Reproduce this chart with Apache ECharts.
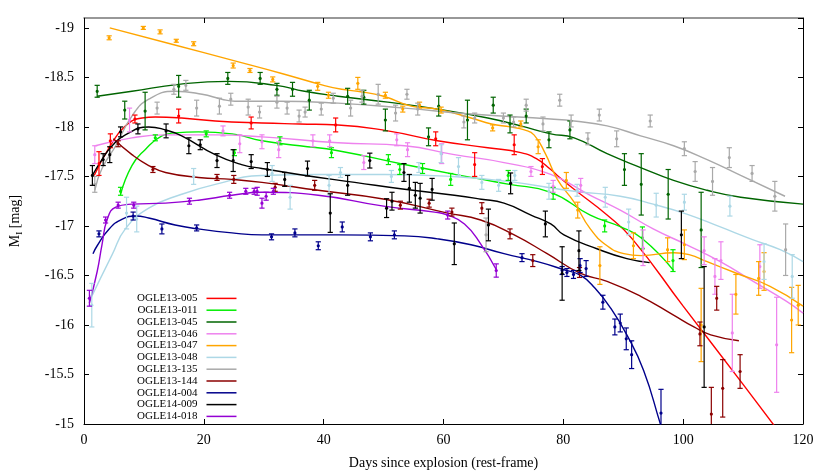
<!DOCTYPE html>
<html><head><meta charset="utf-8">
<script src="https://cdn.jsdelivr.net/npm/echarts@6/dist/echarts.min.js"></script>
<style>html,body{margin:0;padding:0;background:#fff}#c{width:830px;height:475px}</style>
</head><body><div id="c"></div>
<script>
// Supernova names and colours
const names = ['OGLE13-005','OGLE13-011','OGLE13-045','OGLE13-046','OGLE13-047','OGLE13-048','OGLE13-135','OGLE13-144','OGLE14-004','OGLE14-009','OGLE14-018'];
const colors = ['#ff0000','#00ee00','#006400','#ee82ee','#ffa500','#add8e6','#a9a9a9','#8b0000','#00008b','#000000','#9400d3'];

// Observations: [day, M_I, error]
const pts005 = [[2.5,-17.63,0.12],[4.4,-17.86,0.07],[8.5,-18.08,0.04],[15.8,-18.11,0.07],[27.9,-18.04,0.06],[42,-18.02,0.07],[58.7,-17.88,0.07],[65.2,-17.62,0.12],[71.8,-17.82,0.1],[76.5,-17.6,0.08]];
const pts011 = [[6.1,-17.35,0.04],[11.9,-17.89,0.03],[20.4,-17.93,0.03],[25.1,-17.74,0.03],[32.7,-17.86,0.04],[41.3,-17.74,0.05],[50.8,-17.67,0.05],[52.7,-17.57,0.05],[56.5,-17.58,0.05],[61.2,-17.47,0.06],[70.8,-17.51,0.05],[78.3,-17.33,0.06],[86.9,-17.0,0.06],[93.2,-16.88,0.11],[98.3,-16.65,0.11]];
const pts045 = [[2.2,-18.36,0.06],[6.8,-18.17,0.09],[10.2,-18.16,0.19],[15.8,-18.41,0.11],[24,-18.49,0.06],[29.4,-18.49,0.06],[32.2,-18.38,0.06],[34.8,-18.38,0.07],[37.6,-18.27,0.1],[44,-18.31,0.08],[46.7,-18.3,0.07],[50.3,-18.07,0.11],[57.5,-17.9,0.09],[59.2,-18.21,0.1],[64,-18.07,0.2],[68.3,-18.22,0.08],[71.1,-18.03,0.09],[73.8,-18.11,0.07],[77.6,-17.87,0.08],[81.1,-17.97,0.09],[90.2,-17.57,0.16],[93,-17.42,0.31],[97.5,-17.32,0.25],[103,-16.96,0.38]];
const pts046 = [[1.8,-17.72,0.09],[7.6,-18.07,0.12],[23.2,-17.96,0.05],[26,-17.83,0.09],[29.7,-17.85,0.07],[32.5,-17.77,0.08],[38.2,-17.86,0.06],[41,-17.86,0.06],[46.7,-17.64,0.07],[52.2,-17.87,0.06],[54,-17.77,0.07],[59.7,-17.73,0.1],[74.6,-17.55,0.05],[78.3,-17.4,0.06],[82.9,-17.41,0.07],[93.3,-16.78,0.18],[103.5,-16.75,0.14],[105.3,-16.49,0.18],[106.3,-16.65,0.19],[108.2,-15.92,0.39],[112.8,-16.59,0.22],[115.6,-15.8,0.48]];
const pts047 = [[4.2,-18.9,0.02],[9.9,-19.0,0.015],[12.7,-18.96,0.02],[15.4,-18.87,0.015],[18.3,-18.84,0.02],[24.9,-18.62,0.025],[27.7,-18.57,0.02],[31.5,-18.48,0.025],[39,-18.41,0.04],[40.8,-18.32,0.03],[45.7,-18.44,0.06],[50.3,-18.32,0.03],[53.2,-18.18,0.03],[56,-18.22,0.03],[59.6,-18.17,0.03],[68.2,-17.99,0.03],[72.9,-18.03,0.03],[75.8,-17.8,0.07],[80.5,-17.46,0.08],[82.4,-17.16,0.08],[86.1,-16.6,0.19],[91.7,-16.8,0.13],[97.4,-16.76,0.12],[100.2,-16.81,0.15],[103,-16.0,0.37],[108.8,-16.31,0.2],[112.6,-16.47,0.17],[113.5,-16.54,0.19],[118.1,-16.05,0.33],[119.2,-16.2,0.2]];
const pts048 = [[1.3,-16.2,0.22],[7.1,-17.13,0.16],[8.8,-17.07,0.13],[18.3,-17.5,0.08],[31.4,-17.53,0.08],[34.4,-17.29,0.12],[40.9,-17.41,0.1],[42.8,-17.54,0.05],[51.3,-17.5,0.06],[55.9,-17.59,0.05],[59.6,-17.73,0.09],[62.5,-17.6,0.09],[66.4,-17.44,0.07],[69.2,-17.41,0.06],[71.9,-17.51,0.05],[77.6,-17.35,0.08],[82.3,-17.36,0.06],[87,-17.29,0.1],[90.9,-17.04,0.13],[95.5,-17.21,0.12],[100.2,-17.24,0.08],[107.8,-17.2,0.1],[113.5,-16.64,0.18],[118.2,-16.49,0.22]];
const pts135 = [[1.8,-17.42,0.08],[12.2,-18.19,0.06],[15,-18.38,0.05],[17,-18.42,0.05],[18.8,-18.19,0.08],[22.6,-18.21,0.08],[24.5,-18.28,0.06],[27.4,-18.2,0.08],[29.3,-18.15,0.06],[32.2,-18.25,0.06],[33.9,-18.19,0.06],[35.9,-18.11,0.06],[36.9,-18.15,0.05],[39.6,-18.18,0.06],[41.6,-18.29,0.05],[44.5,-18.19,0.08],[46.4,-18.31,0.06],[49.1,-18.33,0.1],[52,-18.14,0.08],[53.9,-18.33,0.05],[55.7,-18.18,0.06],[63.4,-18.05,0.06],[65.2,-18.09,0.05],[67.1,-16.91,0.17],[70,-18.09,0.05],[71.7,-18.05,0.05],[73.8,-18.22,0.06],[76.6,-18.03,0.07],[79.4,-18.27,0.06],[81.3,-18.06,0.06],[84.1,-17.88,0.06],[86,-18.12,0.06],[88.9,-17.88,0.08],[94.5,-18.06,0.06],[100.2,-17.78,0.07],[102,-17.55,0.1],[104.9,-17.45,0.14],[107.7,-17.69,0.1],[111.5,-17.53,0.08],[115.3,-17.3,0.15],[117.1,-16.76,0.26]];
const pts144 = [[5.7,-17.83,0.03],[11.5,-17.57,0.03],[22.2,-17.49,0.03],[25,-17.47,0.04],[31.9,-17.39,0.04],[38.5,-17.41,0.05],[52.8,-17.21,0.04],[57.6,-17.23,0.04],[61.4,-17.14,0.04],[66.4,-17.18,0.055],[71.1,-16.92,0.05],[74.9,-16.65,0.06],[82.7,-16.53,0.05],[102.8,-15.91,0.12],[104.7,-15.1,0.27],[105.6,-16.27,0.12],[106.6,-15.36,0.29],[109.5,-15.53,0.17]];
const pts004 = [[2.5,-16.92,0.03],[8.2,-17.1,0.04],[13,-16.97,0.05],[18.8,-16.98,0.03],[31.3,-16.89,0.03],[35.2,-16.93,0.04],[39.1,-16.8,0.04],[43.1,-16.99,0.05],[47.8,-16.89,0.04],[51.8,-16.91,0.04],[73.1,-16.68,0.04],[79.8,-16.55,0.04],[80.6,-16.53,0.04],[81.7,-16.51,0.04],[82.8,-16.6,0.07],[83.8,-16.57,0.08],[86.6,-16.23,0.07],[88.6,-15.98,0.08],[89.5,-16.02,0.09],[90.5,-15.86,0.11],[91.4,-15.7,0.14],[96.3,-15.11,0.24]];
const pts009 = [[1.4,-17.51,0.1],[3.2,-17.67,0.06],[4.3,-17.72,0.08],[6.1,-17.95,0.05],[9,-17.98,0.05],[13.7,-17.96,0.07],[17.5,-17.81,0.08],[19.4,-17.82,0.05],[22.2,-17.66,0.07],[24.9,-17.66,0.11],[27.9,-17.65,0.07],[30.6,-17.57,0.07],[33.5,-17.47,0.07],[37.3,-17.58,0.075],[41.1,-17.13,0.195],[44,-17.41,0.1],[47.7,-17.66,0.075],[50.5,-17.18,0.095],[51.4,-17.25,0.09],[53.4,-17.54,0.09],[54.3,-17.38,0.14],[55.3,-17.31,0.13],[56.1,-17.28,0.15],[58.1,-17.37,0.11],[61.8,-16.82,0.21],[67.5,-17.01,0.16],[71.2,-17.43,0.105],[77,-17.02,0.13],[79.8,-16.52,0.27],[82.6,-16.75,0.2],[99.7,-16.91,0.24],[103.5,-15.98,0.61]];
const pts018 = [[0.9,-16.27,0.08],[3.6,-17.06,0.03],[5.7,-17.21,0.03],[8.3,-17.21,0.03],[17.6,-17.25,0.03],[24.3,-17.31,0.03],[27,-17.35,0.03],[28.4,-17.35,0.03],[28.9,-17.35,0.04],[29.7,-17.23,0.05],[30.4,-17.3,0.04],[31.6,-17.35,0.03],[60.7,-17.11,0.04],[68.8,-16.55,0.067]];

// Fitted curves: [day, M_I]
const fit005 = [[1.7,-17.51],[4.4,-17.81],[6.9,-18.01],[9.7,-18.09],[11.9,-18.1],[16.3,-18.09],[21.9,-18.06],[29.7,-18.04],[36,-18.03],[42.4,-18.02],[50.7,-17.96],[59,-17.86],[67.4,-17.79],[72.9,-17.74],[75.5,-17.68],[77.9,-17.57],[79,-17.51],[81.8,-17.37],[87.3,-17.11],[91.5,-16.87],[100,-16.19],[110,-15.4],[117,-14.84]];
const fit011 = [[6.1,-17.32],[8,-17.61],[10.2,-17.77],[13,-17.91],[15.2,-17.94],[19.1,-17.95],[24.7,-17.93],[29.7,-17.86],[36,-17.81],[42.4,-17.76],[53.5,-17.62],[64.6,-17.49],[71,-17.42],[77.9,-17.34],[84.5,-17.11],[89.6,-16.99],[93.2,-16.87],[98.4,-16.55]];
const fit045 = [[2.2,-18.31],[8,-18.36],[15.8,-18.43],[24.1,-18.46],[32.1,-18.42],[36.8,-18.36],[42.4,-18.31],[50.7,-18.25],[59,-18.18],[67.4,-18.09],[72.9,-18.01],[77.9,-17.93],[81.8,-17.89],[87.3,-17.73],[92.9,-17.59],[98.4,-17.46],[104,-17.36],[109.6,-17.29],[120,-17.22]];
const fit046 = [[1.9,-17.81],[8,-17.89],[13.6,-17.92],[21.9,-17.92],[29.7,-17.9],[42.4,-17.84],[53.5,-17.81],[61.8,-17.72],[70.1,-17.64],[77.9,-17.52],[84.5,-17.31],[89.5,-17.16],[95,-16.97],[100.6,-16.81],[106.2,-16.64],[111.7,-16.44],[117.2,-16.24],[120,-16.12]];
const fit047 = [[4.3,-19.0],[15,-18.83],[25,-18.67],[33,-18.54],[40,-18.42],[43,-18.38],[45.7,-18.36],[50,-18.31],[54.6,-18.21],[59,-18.18],[64.6,-18.09],[68,-18.03],[71.2,-18.0],[73.5,-17.97],[75.1,-17.92],[77,-17.73],[79,-17.47],[81.8,-17.24],[84.5,-16.97],[87.3,-16.8],[90.1,-16.72],[93,-16.7],[98.5,-16.73],[101,-16.71],[104,-16.64],[109,-16.52],[114.5,-16.39],[120,-16.19]];
const fit048 = [[0.9,-16.24],[4.7,-16.71],[6.9,-16.97],[10.8,-17.18],[16.3,-17.32],[21.9,-17.42],[29.7,-17.51],[39.1,-17.52],[50.2,-17.52],[61.3,-17.5],[70.7,-17.45],[81.8,-17.35],[89.5,-17.3],[95,-17.22],[100.6,-17.12],[106.2,-16.99],[111.7,-16.86],[116.2,-16.76],[120,-16.64]];
const fit135 = [[1.8,-17.36],[3,-17.58],[5.3,-17.81],[8,-18.11],[10.8,-18.28],[15.2,-18.36],[19.7,-18.33],[23,-18.28],[25.2,-18.26],[32.4,-18.26],[42.4,-18.24],[53.5,-18.19],[64.6,-18.13],[77.9,-18.08],[81.8,-18.06],[87.3,-18.01],[92.9,-17.91],[98.4,-17.81],[104,-17.67],[109.6,-17.51],[117,-17.3]];
const fit144 = [[4.9,-17.88],[8,-17.72],[10.8,-17.61],[13.6,-17.54],[19.1,-17.49],[24.7,-17.47],[29.7,-17.44],[39.1,-17.36],[50.2,-17.27],[60.7,-17.13],[66.2,-17.06],[71.8,-16.91],[77.3,-16.72],[82.9,-16.52],[87.3,-16.44],[92.9,-16.29],[98.4,-16.1],[101.8,-15.98],[104.6,-15.9],[109.3,-15.84]];
const fit004 = [[1.5,-16.72],[2.2,-16.8],[4.2,-16.97],[6.4,-17.07],[8.6,-17.1],[10.8,-17.08],[15.2,-17.01],[19.1,-16.97],[24.7,-16.93],[29.7,-16.91],[42.4,-16.91],[53.5,-16.9],[59,-16.87],[64.6,-16.81],[70.1,-16.72],[75.7,-16.64],[80,-16.56],[82.9,-16.5],[85.3,-16.37],[87.9,-16.17],[90.6,-15.9],[93.4,-15.54],[96.2,-15.0],[97,-14.85]];
const fit009 = [[1.4,-17.51],[3,-17.67],[4.7,-17.81],[6.9,-17.92],[10.8,-18.0],[13.6,-17.97],[16.3,-17.91],[21.9,-17.72],[26.3,-17.62],[29.7,-17.58],[36.9,-17.51],[45.2,-17.44],[53.5,-17.37],[61.8,-17.31],[66.3,-17.27],[70.1,-17.23],[74.6,-17.11],[77.9,-17.02],[80.1,-16.91],[85.6,-16.77],[90.6,-16.67],[94.4,-16.63]];
const fit018 = [[0.9,-16.22],[2.2,-16.54],[3,-16.81],[3.9,-17.07],[5.3,-17.19],[8,-17.22],[13.6,-17.23],[19.1,-17.26],[24.7,-17.31],[29.7,-17.34],[39.1,-17.31],[50,-17.2],[58.5,-17.14],[60.7,-17.11],[63.5,-17.02],[66.2,-16.82],[68.8,-16.56]];

// Axis ticks
const xTicks = [0,20,40,60,80,100,120];
const yTickLabels = ['-15','-15.5','-16','-16.5','-17','-17.5','-18','-18.5','-19'];

const allPts = [pts005,pts011,pts045,pts046,pts047,pts048,pts135,pts144,pts004,pts009,pts018];
const allFits = [fit005,fit011,fit045,fit046,fit047,fit048,fit135,fit144,fit004,fit009,fit018];

const FONT = 'Liberation Serif';
const series = [];
names.forEach((n, i) => {
  const col = colors[i];
  series.push({
    type: 'line', name: n, data: allFits[i].map(p => [p[0], -p[1]]),
    smooth: true, symbol: 'none', showSymbol: false, color: col,
    lineStyle: { color: col, width: 1.4 }, z: 2, animation: false, clip: true
  });
});
names.forEach((n, i) => {
  const col = colors[i];
  series.push({
    type: 'custom', name: n, clip: true, animation: false, z: 3,
    data: allPts[i].map(p => [p[0], -p[1], p[2]]),
    encode: { x: 0, y: 1 },
    renderItem: (params, api) => {
      const x = api.value(0), y = api.value(1), e = api.value(2);
      const p = api.coord([x, y]);
      const hi = api.coord([x, y + e]);
      const lo = api.coord([x, y - e]);
      const st = { stroke: col, lineWidth: 1.2 };
      return { type: 'group', children: [
        { type: 'line', shape: { x1: p[0], y1: hi[1], x2: p[0], y2: lo[1] }, style: st },
        { type: 'line', shape: { x1: p[0] - 2.6, y1: hi[1], x2: p[0] + 2.6, y2: hi[1] }, style: st },
        { type: 'line', shape: { x1: p[0] - 2.6, y1: lo[1], x2: p[0] + 2.6, y2: lo[1] }, style: st },
        { type: 'circle', shape: { cx: p[0], cy: p[1], r: 1.6 }, style: { fill: col } }
      ]};
    }
  });
});

const chart = echarts.init(document.getElementById('c'), null, { renderer: 'canvas' });
const yLabel = v => { if (v > 19.05) return ''; const idx = Math.round((v - 15) / 0.5); return yTickLabels[idx] || ''; };
chart.setOption({
  animation: false,
  backgroundColor: '#fff',
  grid: { left: 82, right: 27, top: 18, bottom: 48 },
  legend: {
    data: names.map((n, i) => ({ name: n, icon: 'path://M0,0H30V1.5H0Z', itemStyle: { color: colors[i] } })),
    orient: 'vertical', left: 132, top: 287.5, align: 'right',
    itemWidth: 30, itemHeight: 11.8, itemGap: 0, selectedMode: false, symbolKeepAspect: true,
    textStyle: { fontFamily: FONT, fontSize: 11, color: '#000', lineHeight: 11.8, padding: [0, 4, 0, 0] }
  },
  xAxis: [
    { type: 'value', min: 0, max: 120, interval: 20, position: 'bottom',
      axisLine: { show: true, onZero: false, lineStyle: { color: '#000', width: 1 } },
      axisTick: { show: true, inside: true, length: 5, lineStyle: { color: '#000' } },
      axisLabel: { color: '#000', fontFamily: FONT, fontSize: 14, margin: 9,
        formatter: v => xTicks.indexOf(v) >= 0 ? String(v) : '' },
      splitLine: { show: false },
      name: 'Days since explosion (rest-frame)', nameLocation: 'middle', nameGap: 32,
      nameTextStyle: { color: '#000', fontFamily: FONT, fontSize: 14 } },
    { type: 'value', min: 0, max: 120, interval: 20, position: 'top',
      axisLine: { show: true, onZero: false, lineStyle: { color: '#777', width: 1.5 } },
      axisTick: { show: true, inside: true, length: 5, lineStyle: { color: '#000' } },
      axisLabel: { show: false }, splitLine: { show: false } }
  ],
  yAxis: [
    { type: 'value', min: 15, max: 19.1, interval: 0.5, position: 'left',
      axisLine: { show: true, onZero: false, lineStyle: { color: '#000', width: 1 } },
      axisTick: { show: true, inside: true, length: 5, lineStyle: { color: '#000' } },
      axisLabel: { color: '#000', fontFamily: FONT, fontSize: 14, margin: 10, formatter: yLabel, showMaxLabel: false },
      splitLine: { show: false },
      name: '{m|M}{s|I}{m| [mag]}', nameLocation: 'middle', nameGap: 62,
      nameTextStyle: { color: '#000', fontFamily: FONT, fontSize: 14,
        rich: { m: { fontFamily: FONT, fontSize: 14, color: '#000' },
                s: { fontFamily: FONT, fontSize: 9, color: '#000', verticalAlign: 'bottom', padding: [0, 0, -2, 0] } } } },
    { type: 'value', min: 15, max: 19.1, interval: 0.5, position: 'right',
      axisLine: { show: true, onZero: false, lineStyle: { color: '#000', width: 1 } },
      axisTick: { show: true, inside: true, length: 5, lineStyle: { color: '#000' } },
      axisLabel: { show: false }, splitLine: { show: false } }
  ],
  series: series
});
</script></body></html>
